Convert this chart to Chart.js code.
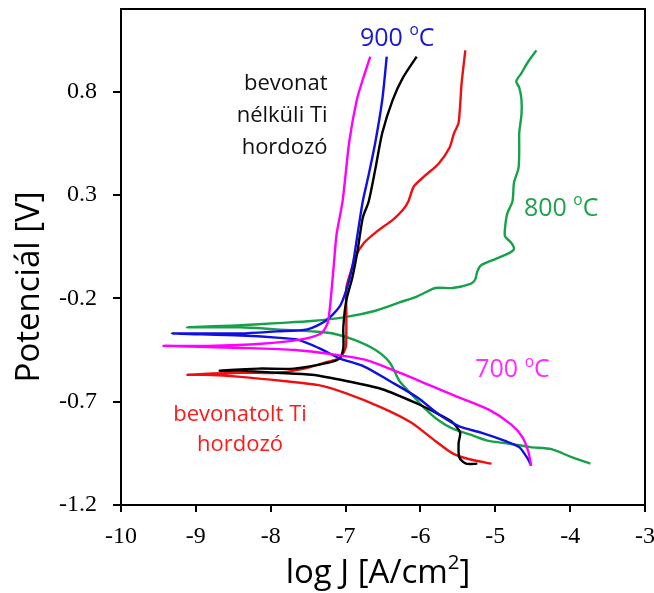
<!DOCTYPE html>
<html>
<head>
<meta charset="utf-8">
<script src="https://cdn.jsdelivr.net/npm/chart.js@4/dist/chart.umd.min.js"></script>
<style>
body { margin: 0; background: #fff; }
</style>
</head>
<body>
<canvas id="g1" width="654" height="593"></canvas>
<script>
//tick values
var xTicks = [-10, -9, -8, -7, -6, -5, -4, -3];
var yTicks = [-1.2, -0.7, -0.2, 0.3, 0.8];

//each curve: cathodic branch from its end back to Ecorr, then the anodic branch up
//700 oC (magenta)
var x700 = [-4.52,-4.56,-4.64,-4.79,-5.08,-5.48,-5.88,-6.28,-6.71,-7.19,-7.67,-8.37,-9.43,-8.85,-8.13,-7.61,-7.33,-7.24,-7.20,-7.16,-7.12,-7.04,-6.95,-6.85,-6.76,-6.67];
var y700 = [-1.01,-0.94,-0.87,-0.81,-0.74,-0.68,-0.62,-0.56,-0.50,-0.47,-0.45,-0.44,-0.43,-0.43,-0.42,-0.40,-0.37,-0.32,-0.21,-0.05,0.11,0.27,0.56,0.76,0.87,0.97];

//900 oC (blue)
var x900 = [-4.52,-4.56,-4.68,-4.87,-5.19,-5.48,-5.76,-6.04,-6.41,-6.75,-7.08,-7.36,-7.64,-7.92,-8.40,-9.32,-8.40,-7.92,-7.51,-7.27,-7.08,-6.99,-6.91,-6.84,-6.77,-6.69,-6.60,-6.51,-6.45];
var y900 = [-1.01,-0.98,-0.92,-0.89,-0.85,-0.82,-0.76,-0.68,-0.60,-0.53,-0.49,-0.44,-0.40,-0.39,-0.38,-0.37,-0.37,-0.36,-0.35,-0.31,-0.24,-0.16,-0.05,0.11,0.27,0.40,0.56,0.76,0.97];

//bevonat nelkuli Ti hordozo (black)
var xBare = [-5.24,-5.39,-5.48,-5.49,-5.47,-5.57,-5.76,-6.04,-6.51,-6.99,-7.45,-7.92,-8.40,-8.68,-8.16,-7.69,-7.21,-7.08,-7.03,-7.03,-6.99,-6.91,-6.84,-6.77,-6.69,-6.60,-6.51,-6.37,-6.23,-6.05];
var yBare = [-1.00,-1.00,-0.97,-0.90,-0.85,-0.80,-0.76,-0.71,-0.64,-0.60,-0.57,-0.56,-0.55,-0.55,-0.54,-0.54,-0.51,-0.49,-0.44,-0.34,-0.21,-0.10,0.03,0.19,0.27,0.43,0.60,0.76,0.87,0.97];

//bevonatolt Ti hordozo (red)
var xCoated = [-5.05,-5.33,-5.57,-5.80,-6.13,-6.51,-6.99,-7.36,-7.83,-8.40,-8.87,-9.11,-8.40,-7.92,-7.55,-7.27,-7.08,-7.00,-6.99,-6.99,-6.99,-6.93,-6.87,-6.75,-6.56,-6.37,-6.23,-6.16,-6.09,-5.95,-5.76,-5.61,-5.55,-5.49,-5.45,-5.40];
var yCoated = [-1.00,-0.98,-0.95,-0.89,-0.80,-0.73,-0.66,-0.62,-0.60,-0.58,-0.57,-0.57,-0.56,-0.56,-0.54,-0.51,-0.49,-0.44,-0.37,-0.26,-0.15,-0.07,0.00,0.07,0.13,0.18,0.23,0.27,0.34,0.39,0.45,0.53,0.60,0.65,0.84,1.00];

//800 oC (green)
var x800 = [-3.73,-3.97,-4.25,-4.53,-4.87,-5.09,-5.33,-5.57,-5.76,-5.95,-6.13,-6.28,-6.41,-6.60,-6.89,-7.17,-7.45,-7.92,-8.40,-9.12,-8.40,-7.92,-7.45,-6.99,-6.60,-6.28,-6.04,-5.80,-5.57,-5.33,-5.27,-5.24,-5.19,-5.00,-4.81,-4.75,-4.79,-4.87,-4.87,-4.84,-4.77,-4.75,-4.69,-4.68,-4.68,-4.65,-4.65,-4.68,-4.72,-4.65,-4.57,-4.45];
var y800 = [-1.00,-0.97,-0.93,-0.92,-0.90,-0.89,-0.86,-0.83,-0.79,-0.73,-0.66,-0.60,-0.51,-0.45,-0.40,-0.37,-0.36,-0.35,-0.34,-0.34,-0.33,-0.32,-0.31,-0.29,-0.26,-0.22,-0.19,-0.15,-0.15,-0.13,-0.11,-0.07,-0.04,-0.01,0.02,0.04,0.07,0.10,0.14,0.21,0.27,0.36,0.43,0.52,0.60,0.69,0.76,0.82,0.85,0.89,0.94,1.00];

//text labels inside the plot, placed in data units
var notes = [
    { lines: [['900 ', 'o', 'C']], x: -6.31, y: 1.056, color: '#1818d0', size: 25, align: 'center' },
    { lines: [['800 ', 'o', 'C']], x: -4.12, y: 0.235, color: '#1ea24c', size: 25, align: 'center' },
    { lines: [['700 ', 'o', 'C']], x: -4.77, y: -0.548, color: '#ff2cff', size: 25, align: 'center' },
    { lines: [['bevonat'], ['nélküli Ti'], ['hordozó']], x: -7.24, y: 0.839, color: '#111', size: 22, align: 'right', gap: 32 },
    { lines: [['bevonatolt Ti'], ['hordozó']], x: -8.41, y: -0.765, color: '#ff1a1a', size: 22, align: 'center', gap: 30 }
];

function pts(xs, ys) {
    return xs.map(function(v, i) { return { x: v, y: ys[i] }; });
}

function curve(label, xs, ys, color) {
    return {
        label: label,
        data: pts(xs, ys),
        showLine: true,
        borderColor: color,
        backgroundColor: color,
        borderWidth: 2.4,
        pointRadius: 0,
        tension: 0.25,
        fill: false
    };
}

//draws text made of parts, every 2nd part is a small raised "o"
function drawParts(ctx, parts, x, y, size, align) {
    var sup = size * 0.62;
    var widths = parts.map(function(p, i) {
        ctx.font = (i === 1 ? sup : size) + 'px "Open Sans"';
        return ctx.measureText(p).width;
    });
    var total = widths.reduce(function(a, b) { return a + b; }, 0);
    var sx = align === 'right' ? x - total : (align === 'center' ? x - total / 2 : x);
    parts.forEach(function(p, i) {
        ctx.font = (i === 1 ? sup : size) + 'px "Open Sans"';
        ctx.fillText(p, sx, i === 1 ? y - size * 0.32 : y);
        sx += widths[i];
    });
}

var decor = {
    id: 'decor',
    afterDraw: function(chart) {
        var ctx = chart.ctx;
        var a = chart.chartArea;
        var sx = chart.scales.x, sy = chart.scales.y;
        ctx.save();
        //top and right frame
        ctx.strokeStyle = '#000';
        ctx.lineWidth = 2;
        ctx.beginPath();
        ctx.moveTo(a.left, a.top);
        ctx.lineTo(a.right, a.top);
        ctx.lineTo(a.right, a.bottom);
        ctx.stroke();

        ctx.textBaseline = 'middle';
        ctx.textAlign = 'left';
        notes.forEach(function(n) {
            ctx.fillStyle = n.color;
            var px = sx.getPixelForValue(n.x);
            var py = sy.getPixelForValue(n.y);
            n.lines.forEach(function(parts, k) {
                drawParts(ctx, parts, px, py + k * (n.gap || 0), n.size, n.align);
            });
        });

        //axis titles
        ctx.fillStyle = '#000';
        drawParts(ctx, ['log J [A/cm', '2', ']'], 378, 574, 33, 'center');
        ctx.translate(30, 287);
        ctx.rotate(-Math.PI / 2);
        ctx.font = '33px "Open Sans"';
        ctx.textAlign = 'center';
        ctx.fillText('Potenciál [V]', 0, 0);
        ctx.restore();
    }
};

var ctx_1 = document.getElementById('g1');

var myChart = new Chart(ctx_1, {
    type: 'scatter',
    data: {
        datasets: [
            curve('700 °C', x700, y700, '#ff00ff'),
            curve('900 °C', x900, y900, '#1010e0'),
            curve('bevonat nélküli Ti hordozó', xBare, yBare, '#000000'),
            curve('bevonatolt Ti hordozó', xCoated, yCoated, '#ee1010'),
            curve('800 °C', x800, y800, '#17a24a')
        ]
    },
    plugins: [decor],
    options: {
        responsive: false,
        animation: false,
        layout: { padding: { top: 9, right: 9, left: 0, bottom: 0 } },
        plugins: {
            legend: { display: false },
            tooltip: { enabled: false }
        },
        scales: {
            x: {
                type: 'linear',
                min: -10,
                max: -3,
                afterBuildTicks: function(scale) {
                    scale.ticks = xTicks.map(function(v) { return { value: v }; });
                },
                afterFit: function(scale) {
                    scale.height = 88;
                    scale.paddingLeft = 0;
                    scale.paddingRight = 0;
                },
                grid: { drawOnChartArea: false, drawTicks: true, tickLength: 7, color: '#000', lineWidth: 2 },
                border: { color: '#000', width: 2 },
                ticks: {
                    color: '#000',
                    padding: 10,
                    maxRotation: 0,
                    font: { family: 'Liberation Serif', size: 24 },
                    callback: function(v) { return String(v); }
                }
            },
            y: {
                type: 'linear',
                min: -1.2,
                max: 1.2,
                afterBuildTicks: function(scale) {
                    scale.ticks = yTicks.map(function(v) { return { value: v }; });
                },
                afterFit: function(scale) {
                    scale.width = 121;
                    scale.paddingTop = 0;
                    scale.paddingBottom = 0;
                },
                grid: { drawOnChartArea: false, drawTicks: true, tickLength: 8, color: '#000', lineWidth: 2 },
                border: { color: '#000', width: 2 },
                ticks: {
                    color: '#000',
                    padding: 16,
                    font: { family: 'Liberation Serif', size: 24 },
                    callback: function(v) { return v.toFixed(1); }
                }
            }
        }
    }
});
</script>
</body>
</html>
